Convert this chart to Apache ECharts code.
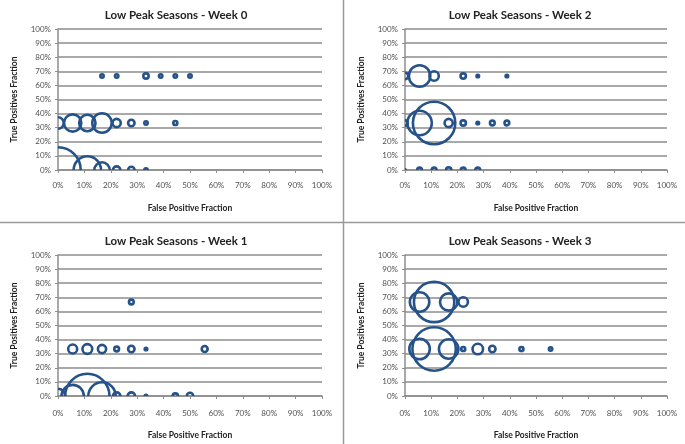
<!DOCTYPE html>
<html><head><meta charset="utf-8">
<script src="https://cdn.jsdelivr.net/npm/echarts@6/dist/echarts.min.js"></script>
<style>html,body{margin:0;padding:0;background:#fff}#c{width:685px;height:444px}</style>
</head><body><div id="c"></div>
<script>
// ---- data (values in percent; count = bubble weight) ----
const chartTitles = ['Low Peak Seasons - Week 0', 'Low Peak Seasons - Week 2', 'Low Peak Seasons - Week 1', 'Low Peak Seasons - Week 3'];
const xAxisName = 'False Positive Fraction';
const yAxisName = 'True Positives Fraction';

const week0Fpr   = [16.67, 22.22, 33.33, 38.89, 44.44, 50.00,  0, 5.56, 11.11, 16.67, 22.22, 27.78, 33.33, 44.44,  0, 11.11, 16.67, 22.22, 27.78, 33.33];
const week0Tpr   = [66.67, 66.67, 66.67, 66.67, 66.67, 66.67,  33.33, 33.33, 33.33, 33.33, 33.33, 33.33, 33.33, 33.33,  0, 0, 0, 0, 0, 0];
const week0Count = [4, 4, 7, 4, 4, 4,  22, 44, 40, 54, 13, 9, 4, 5,  256, 100, 36, 11, 9, 4];

const week2Fpr   = [0, 5.56, 11.11, 22.22, 27.78, 38.89,  0, 5.56, 11.11, 16.67, 22.22, 27.78, 33.33, 38.89,  0, 5.56, 11.11, 16.67, 22.22, 27.78];
const week2Tpr   = [66.67, 66.67, 66.67, 66.67, 66.67, 66.67,  33.33, 33.33, 33.33, 33.33, 33.33, 33.33, 33.33, 33.33,  0, 0, 0, 0, 0, 0];
const week2Count = [9, 64, 16, 7, 3, 3,  7, 81, 225, 13, 7, 3, 6, 6,  2, 6, 6, 7, 6, 6];

const week1Fpr   = [27.78,  5.56, 11.11, 16.67, 22.22, 27.78, 33.33, 55.56,  0, 5.56, 11.11, 16.67, 22.22, 27.78, 33.33, 44.44, 50.00];
const week1Tpr   = [66.67,  33.33, 33.33, 33.33, 33.33, 33.33, 33.33, 33.33,  0, 0, 0, 0, 0, 0, 0, 0, 0];
const week1Count = [6,  15, 17, 13, 6, 9, 3, 8,  32, 69, 245, 100, 11, 11, 3, 7, 9];

const week3Fpr   = [5.56, 11.11, 16.67, 22.22,  5.56, 11.11, 16.67, 22.22, 27.78, 33.33, 44.44, 55.56];
const week3Tpr   = [66.67, 66.67, 66.67, 66.67,  33.33, 33.33, 33.33, 33.33, 33.33, 33.33, 33.33, 33.33];
const week3Count = [54, 205, 44, 16,  59, 235, 54, 5, 19, 9, 5, 4];

// ---- styles ----
const COLOR = '#26528a';
const LW = 2.6;
const SIZE_K = 3;
const FONT = 'Lato, "Liberation Sans", sans-serif';

const panels = [
  { fpr: week0Fpr, tpr: week0Tpr, cnt: week0Count, grid: {left: 58, top: 29, width: 264, height: 141}, cx: 171, ty: 4,   lm: 11 },
  { fpr: week2Fpr, tpr: week2Tpr, cnt: week2Count, grid: {left: 405, top: 29, width: 262, height: 141}, cx: 515, ty: 4,   lm: 11 },
  { fpr: week1Fpr, tpr: week1Tpr, cnt: week1Count, grid: {left: 58, top: 255, width: 264, height: 141}, cx: 171, ty: 230, lm: 13 },
  { fpr: week3Fpr, tpr: week3Tpr, cnt: week3Count, grid: {left: 405, top: 255, width: 262, height: 141}, cx: 515, ty: 230, lm: 13 }
];

const gridCol = '#8c8c8c';
const option = {
  backgroundColor: '#fff',
  animation: false,
  title: panels.map((p, i) => ({
    text: chartTitles[i], left: p.cx, top: p.ty, textAlign: 'center',
    textStyle: {fontFamily: FONT, fontSize: 11.5, fontWeight: 'bold', color: '#222'}
  })),
  grid: panels.map(p => p.grid),
  xAxis: panels.map((p, i) => ({
    type: 'value', gridIndex: i, min: 0, max: 100, interval: 10,
    name: xAxisName, nameLocation: 'middle', nameGap: 34 + (i >= 2 ? 1 : 0),
    nameTextStyle: {fontFamily: FONT, fontSize: 8.5, fontWeight: 'bold', color: '#222'},
    axisLine: {show: true, lineStyle: {color: gridCol, width: 1.5}},
    axisTick: {show: true, length: 3, lineStyle: {color: gridCol, width: 1}},
    axisLabel: {formatter: '{value}%', fontFamily: FONT, fontSize: 8, color: '#505050', margin: p.lm},
    splitLine: {show: false}
  })),
  yAxis: panels.map((p, i) => ({
    type: 'value', gridIndex: i, min: 0, max: 100, interval: 10,
    name: yAxisName, nameLocation: 'middle', nameGap: 39,
    nameTextStyle: {fontFamily: FONT, fontSize: 8.5, fontWeight: 'bold', color: '#222'},
    axisLine: {show: true, lineStyle: {color: gridCol, width: 1.5}},
    axisTick: {show: true, length: 3, lineStyle: {color: gridCol, width: 1}},
    axisLabel: {formatter: '{value}%', fontFamily: FONT, fontSize: 8, color: '#505050', margin: 7},
    splitLine: {show: true, lineStyle: {color: gridCol, width: 1.5}}
  })),
  series: panels.map((p, i) => ({
    type: 'custom', xAxisIndex: i, yAxisIndex: i, clip: true,
    data: p.fpr.map((x, j) => [x, p.tpr[j], p.cnt[j]]),
    encode: {x: 0, y: 1},
    renderItem: function (params, api) {
      const c = api.coord([api.value(0), api.value(1)]);
      const r = Math.max(0.8, (SIZE_K * Math.sqrt(api.value(2)) - LW) / 2);
      return {type: 'circle', shape: {cx: c[0], cy: c[1], r: r},
        style: {fill: 'none', stroke: COLOR, lineWidth: LW}};
    }
  })),
  graphic: [
    {type: 'line', shape: {x1: 0, y1: 222.5, x2: 685, y2: 222.5}, style: {stroke: '#9a9a9a', lineWidth: 1.5}},
    {type: 'line', shape: {x1: 343.5, y1: 0, x2: 343.5, y2: 444}, style: {stroke: '#9a9a9a', lineWidth: 1.5}}
  ]
};
const chart = echarts.init(document.getElementById('c'), null, {renderer: 'canvas'});
chart.setOption(option);
</script></body></html>
